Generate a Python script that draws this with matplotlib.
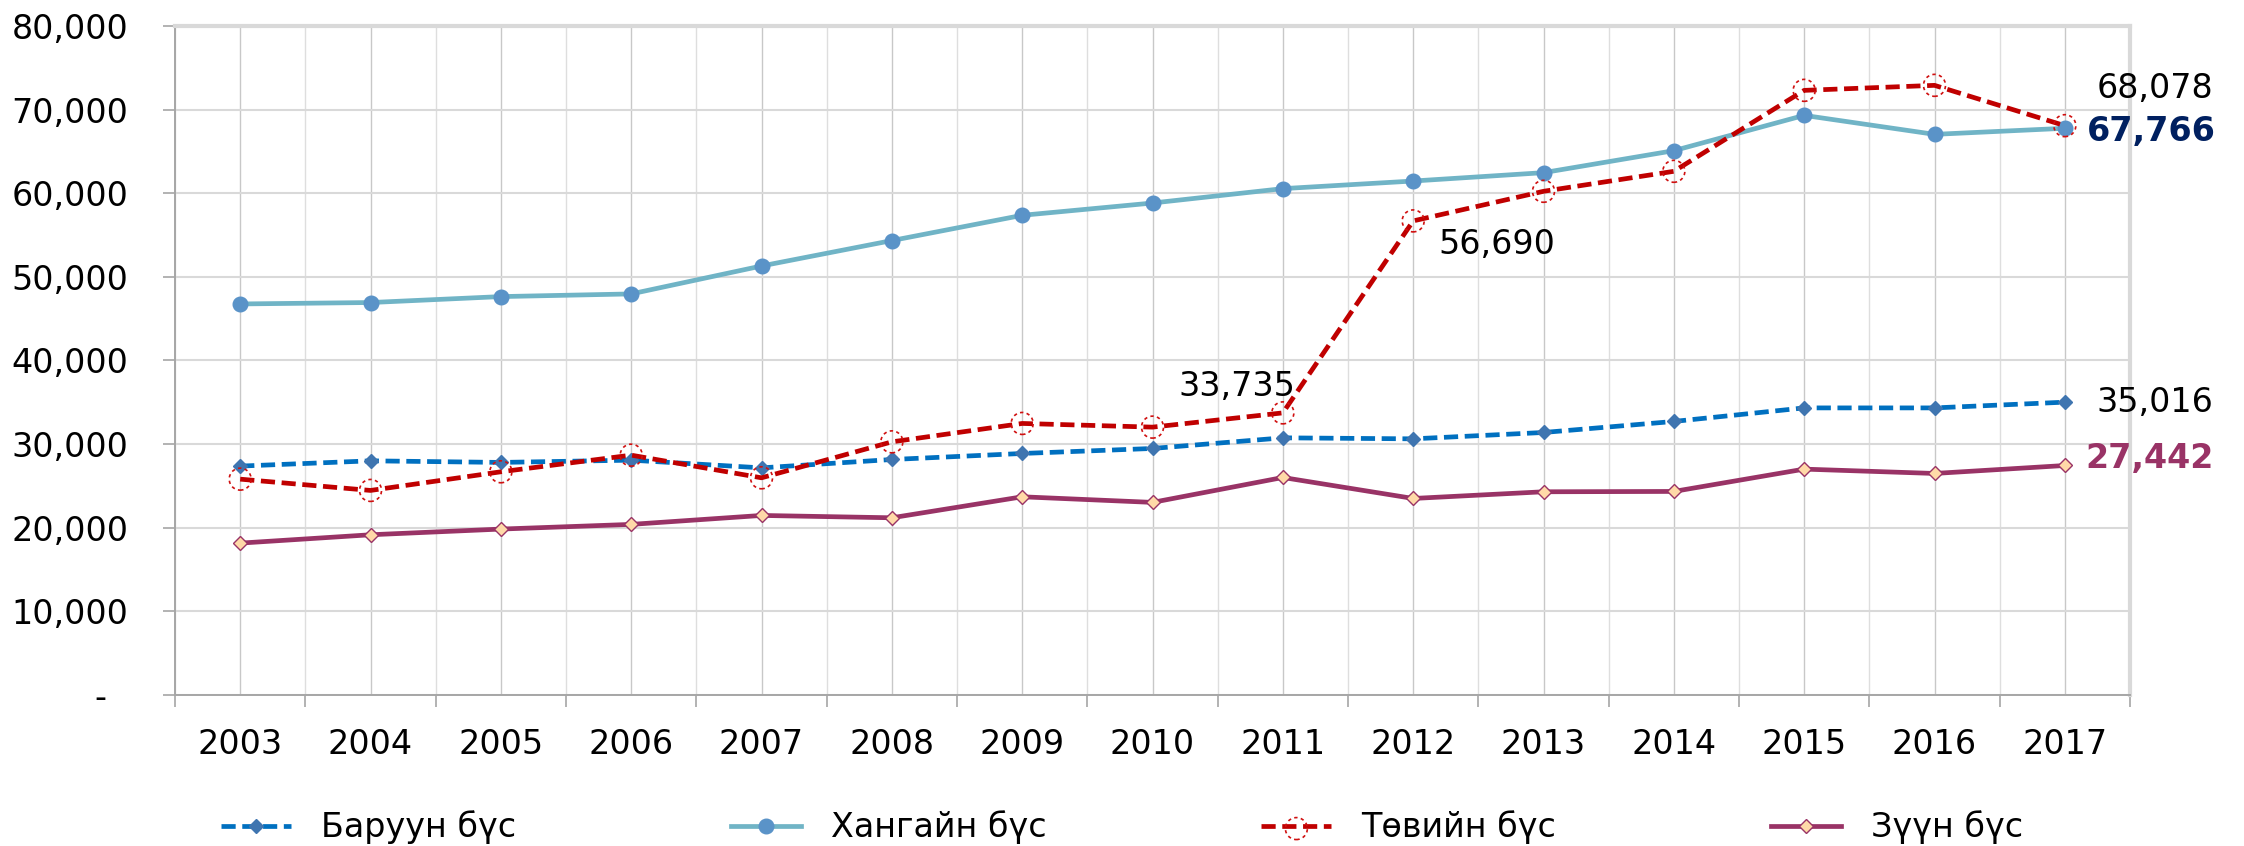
import numpy as np
import matplotlib
matplotlib.use('Agg')
import matplotlib.pyplot as plt
from matplotlib.ticker import FuncFormatter, MultipleLocator

# data
years = ['2003', '2004', '2005', '2006', '2007', '2008', '2009', '2010',
         '2011', '2012', '2013', '2014', '2015', '2016', '2017']
baruun = [27370, 28000, 27810, 28080, 27160, 28160, 28880, 29480,
          30750, 30630, 31390, 32710, 34330, 34330, 35016]
khangai = [46760, 46930, 47640, 47960, 51300, 54340, 57360, 58830,
           60550, 61460, 62460, 65090, 69310, 67040, 67766]
tuv = [25810, 24460, 26690, 28680, 25970, 30270, 32470, 32030,
       33735, 56690, 60230, 62620, 72300, 72900, 68078]
zuun = [18160, 19160, 19840, 20400, 21470, 21190, 23700, 23030,
        26010, 23500, 24300, 24340, 27010, 26490, 27442]
names = ['Баруун бүс', 'Хангайн бүс', 'Төвийн бүс', 'Зүүн бүс']

plt.rcParams['font.family'] = ['DejaVu Sans']
fs = 24

fig = plt.figure(figsize=(22.44, 8.46), dpi=100)
ax = fig.add_axes([0.0780, 0.1785, 0.8712, 0.7908])

x = np.arange(len(years))
dash = (0, (3, 1.4))

l1, = ax.plot(x, baruun, color='#0070C0', lw=3.4, ls=dash, marker='D', ms=7.5,
              mfc='#3F75B0', mec='#3F75B0', zorder=3)
l2, = ax.plot(x, khangai, color='#70B4C6', lw=3.4, marker='o', ms=10.5,
              mfc='#5A93C8', mec='#5A93C8', zorder=4)
l3, = ax.plot(x, tuv, color='#C00000', lw=3.4, ls=dash, zorder=5)
s3 = ax.scatter(x, tuv, s=250, facecolors='none', edgecolors='#D01010',
                linewidths=1.2, linestyles=(0, (2, 2)), zorder=6)
l4, = ax.plot(x, zuun, color='#993366', lw=3.4, marker='D', ms=7.5,
              mfc='#FFD9A8', mec='#993366', mew=1.0, zorder=5)

# value labels
ax.annotate('68,078', xy=(14, tuv[14]), xytext=(90, 37), textcoords='offset pixels',
            ha='center', va='center', fontsize=fs, color='black')
ax.annotate('67,766', xy=(14, khangai[14]), xytext=(86, -3), textcoords='offset pixels',
            ha='center', va='center', fontsize=fs, color='#002060', fontweight='bold')
ax.annotate('35,016', xy=(14, baruun[14]), xytext=(90, 0), textcoords='offset pixels',
            ha='center', va='center', fontsize=fs, color='black')
ax.annotate('27,442', xy=(14, zuun[14]), xytext=(85, 7), textcoords='offset pixels',
            ha='center', va='center', fontsize=fs, color='#993366', fontweight='bold')
ax.annotate('33,735', xy=(8, tuv[8]), xytext=(-46, 26), textcoords='offset pixels',
            ha='center', va='center', fontsize=fs, color='black')
ax.annotate('56,690', xy=(9, tuv[9]), xytext=(84, -24), textcoords='offset pixels',
            ha='center', va='center', fontsize=fs, color='black')

ax.set_xlim(-0.5, len(years) - 0.5)
ax.set_ylim(0, 80000)
ax.set_xticks(x)
ax.set_xticklabels(years)
ax.set_xticks(np.arange(-0.5, len(years), 1), minor=True)
ax.yaxis.set_major_locator(MultipleLocator(10000))


def yfmt(v, pos):
    if v == 0:
        return '-\u2007'
    return '{:,.0f}'.format(v)


ax.yaxis.set_major_formatter(FuncFormatter(yfmt))

ax.grid(axis='x', which='major', color='#C8C8C8', lw=1.0, zorder=0)
ax.grid(axis='x', which='minor', color='#DEDEDE', lw=1.0, zorder=0)
ax.grid(axis='y', which='major', color='#D9D9D9', lw=1.5, zorder=0)
ax.set_axisbelow(True)

ax.tick_params(axis='x', which='major', length=0, pad=24, labelsize=fs)
ax.tick_params(axis='x', which='minor', length=8.6, width=1.2, color='#A6A6A6',
               direction='out')
ax.tick_params(axis='y', length=8.6, width=1.2, color='#A6A6A6', direction='out',
               pad=25, labelsize=fs)

for side in ['left', 'bottom']:
    ax.spines[side].set_color('#A6A6A6')
    ax.spines[side].set_linewidth(1.4)
for side in ['top', 'right']:
    ax.spines[side].set_color('#D9D9D9')
    ax.spines[side].set_linewidth(3)

fig.legend([l1, l2, (l3, s3), l4], names, loc='center', bbox_to_anchor=(0.5, 0.022),
           ncol=4, frameon=False, fontsize=fs, handlelength=2.1, handletextpad=0.9,
           columnspacing=6.45, scatterpoints=1)

fig.savefig('out.png', dpi=100)
